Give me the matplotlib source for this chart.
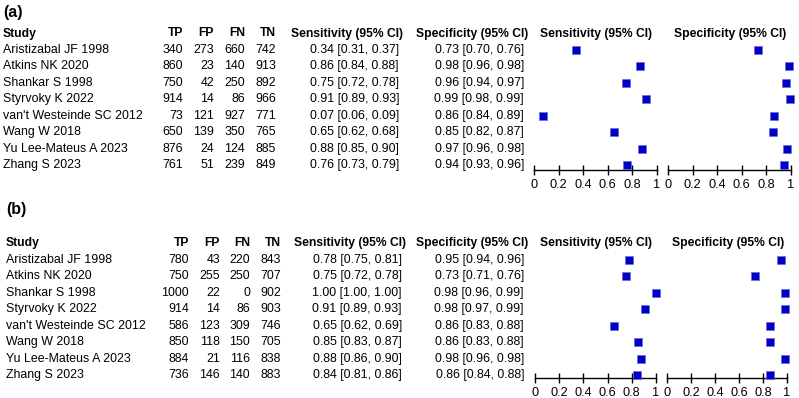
import matplotlib
matplotlib.use("Agg")
import matplotlib.pyplot as plt

plt.rcParams['font.family'] = ['Liberation Sans', 'DejaVu Sans']

W, H = 799, 398

studies = ["Aristizabal JF 1998", "Atkins NK 2020", "Shankar S 1998", "Styrvoky K 2022",
           "van't Westeinde SC 2012", "Wang W 2018", "Yu Lee-Mateus A 2023", "Zhang S 2023"]

# panel (a)
a_tp = [340, 860, 750, 914, 73, 650, 876, 761]
a_fp = [273, 23, 42, 14, 121, 139, 24, 51]
a_fn = [660, 140, 250, 86, 927, 350, 124, 239]
a_tn = [742, 913, 892, 966, 771, 765, 885, 849]
a_sens = [0.34, 0.86, 0.75, 0.91, 0.07, 0.65, 0.88, 0.76]
a_sens_lo = [0.31, 0.84, 0.72, 0.89, 0.06, 0.62, 0.85, 0.73]
a_sens_hi = [0.37, 0.88, 0.78, 0.93, 0.09, 0.68, 0.90, 0.79]
a_spec = [0.73, 0.98, 0.96, 0.99, 0.86, 0.85, 0.97, 0.94]
a_spec_lo = [0.70, 0.96, 0.94, 0.98, 0.84, 0.82, 0.96, 0.93]
a_spec_hi = [0.76, 0.98, 0.97, 0.99, 0.89, 0.87, 0.98, 0.96]

# panel (b)
b_tp = [780, 750, 1000, 914, 586, 850, 884, 736]
b_fp = [43, 255, 22, 14, 123, 118, 21, 146]
b_fn = [220, 250, 0, 86, 309, 150, 116, 140]
b_tn = [843, 707, 902, 903, 746, 705, 838, 883]
b_sens = [0.78, 0.75, 1.00, 0.91, 0.65, 0.85, 0.88, 0.84]
b_sens_lo = [0.75, 0.72, 1.00, 0.89, 0.62, 0.83, 0.86, 0.81]
b_sens_hi = [0.81, 0.78, 1.00, 0.93, 0.69, 0.87, 0.90, 0.86]
b_spec = [0.95, 0.73, 0.98, 0.98, 0.86, 0.86, 0.98, 0.86]
b_spec_lo = [0.94, 0.71, 0.96, 0.97, 0.83, 0.83, 0.96, 0.84]
b_spec_hi = [0.96, 0.76, 0.99, 0.99, 0.88, 0.88, 0.98, 0.88]

ticks = [0, 0.2, 0.4, 0.6, 0.8, 1]
tick_labels = ["0", "0.2", "0.4", "0.6", "0.8", "1"]

FS = 8.9
FS_BOLD = 8.7
BLUE = '#0000c4'

fig = plt.figure(figsize=(W / 100, H / 100), dpi=100)


def txt(x, y, s, **kw):
    kw.setdefault('fontsize', FS)
    fig.text(x / W, 1 - y / H, s, va='center', **kw)


def ci(est, lo, hi):
    return [f"{e:.2f} [{l:.2f}, {h:.2f}]" for e, l, h in zip(est, lo, hi)]


def forest(x0, x1, y_head, dy, y_axis, est, lo, hi, label):
    ax = fig.add_axes([x0 / W, 1 - y_axis / H, (x1 - x0) / W, (y_axis - y_head) / H])
    n = len(est)
    bottom = (y_axis - y_head) / dy - 1
    ax.set_xlim(0, 1)
    ax.set_ylim(bottom, -1)
    rows = list(range(n))
    ax.hlines(rows, lo, hi, color=BLUE, lw=1, clip_on=False)
    ax.scatter(est, rows, marker='s', s=36, color=BLUE, edgecolor='#6a6ae0',
               linewidth=0.5, clip_on=False, zorder=3)
    for s in ['top', 'left', 'right']:
        ax.spines[s].set_visible(False)
    ax.spines['bottom'].set_linewidth(1.0)
    ax.set_yticks([])
    ax.set_xticks(ticks)
    ax.set_xticklabels(tick_labels, fontsize=9.2)
    ax.tick_params(axis='x', direction='inout', length=7, width=1, pad=3)
    ax.patch.set_alpha(0)
    txt((x0 + x1) / 2 + 1, y_head, label, ha='center', fontweight='bold', fontsize=FS_BOLD)


def panel(tag, y_tag, y_head, dy, y_axis, xs, tp, fp, fn, tn, sens, slo, shi, spec, splo, sphi):
    txt(xs['tag'], y_tag, tag, fontweight='bold', fontsize=11.5)
    bold = dict(fontweight='bold', fontsize=FS_BOLD)
    txt(xs['study'], y_head, "Study", **bold)
    txt(xs['tp'], y_head, "TP", ha='right', **bold)
    txt(xs['fp'], y_head, "FP", ha='right', **bold)
    txt(xs['fn'], y_head, "FN", ha='right', **bold)
    txt(xs['tn'], y_head, "TN", ha='right', **bold)
    txt(xs['sens'] + 4, y_head, "Sensitivity (95% CI)", ha='right', **bold)
    txt(xs['spec'] + 4, y_head, "Specificity (95% CI)", ha='right', **bold)
    sens_txt = ci(sens, slo, shi)
    spec_txt = ci(spec, splo, sphi)
    for i in range(len(studies)):
        y = y_head + dy * (i + 1)
        txt(xs['study'], y, studies[i])
        txt(xs['tp'], y, str(tp[i]), ha='right')
        txt(xs['fp'], y, str(fp[i]), ha='right')
        txt(xs['fn'], y, str(fn[i]), ha='right')
        txt(xs['tn'], y, str(tn[i]), ha='right')
        txt(xs['sens'], y, sens_txt[i], ha='right')
        txt(xs['spec'], y, spec_txt[i], ha='right')
    forest(xs['f1'][0], xs['f1'][1], y_head, dy, y_axis, sens, slo, shi, "Sensitivity (95% CI)")
    forest(xs['f2'][0], xs['f2'][1], y_head, dy, y_axis, spec, splo, sphi, "Specificity (95% CI)")


xa = dict(tag=3, study=3, tp=183, fp=214, fn=245, tn=276, sens=399, spec=524,
          f1=(534, 657), f2=(668, 791))
xb = dict(tag=6, study=6, tp=189, fp=220, fn=250, tn=281, sens=402, spec=524,
          f1=(535, 656), f2=(667, 787))

panel("(a)", 12, 33.5, 16.45, 170, xa, a_tp, a_fp, a_fn, a_tn,
      a_sens, a_sens_lo, a_sens_hi, a_spec, a_spec_lo, a_spec_hi)
panel("(b)", 210, 243, 16.55, 378, xb, b_tp, b_fp, b_fn, b_tn,
      b_sens, b_sens_lo, b_sens_hi, b_spec, b_spec_lo, b_spec_hi)

fig.savefig("out.png", dpi=100)
